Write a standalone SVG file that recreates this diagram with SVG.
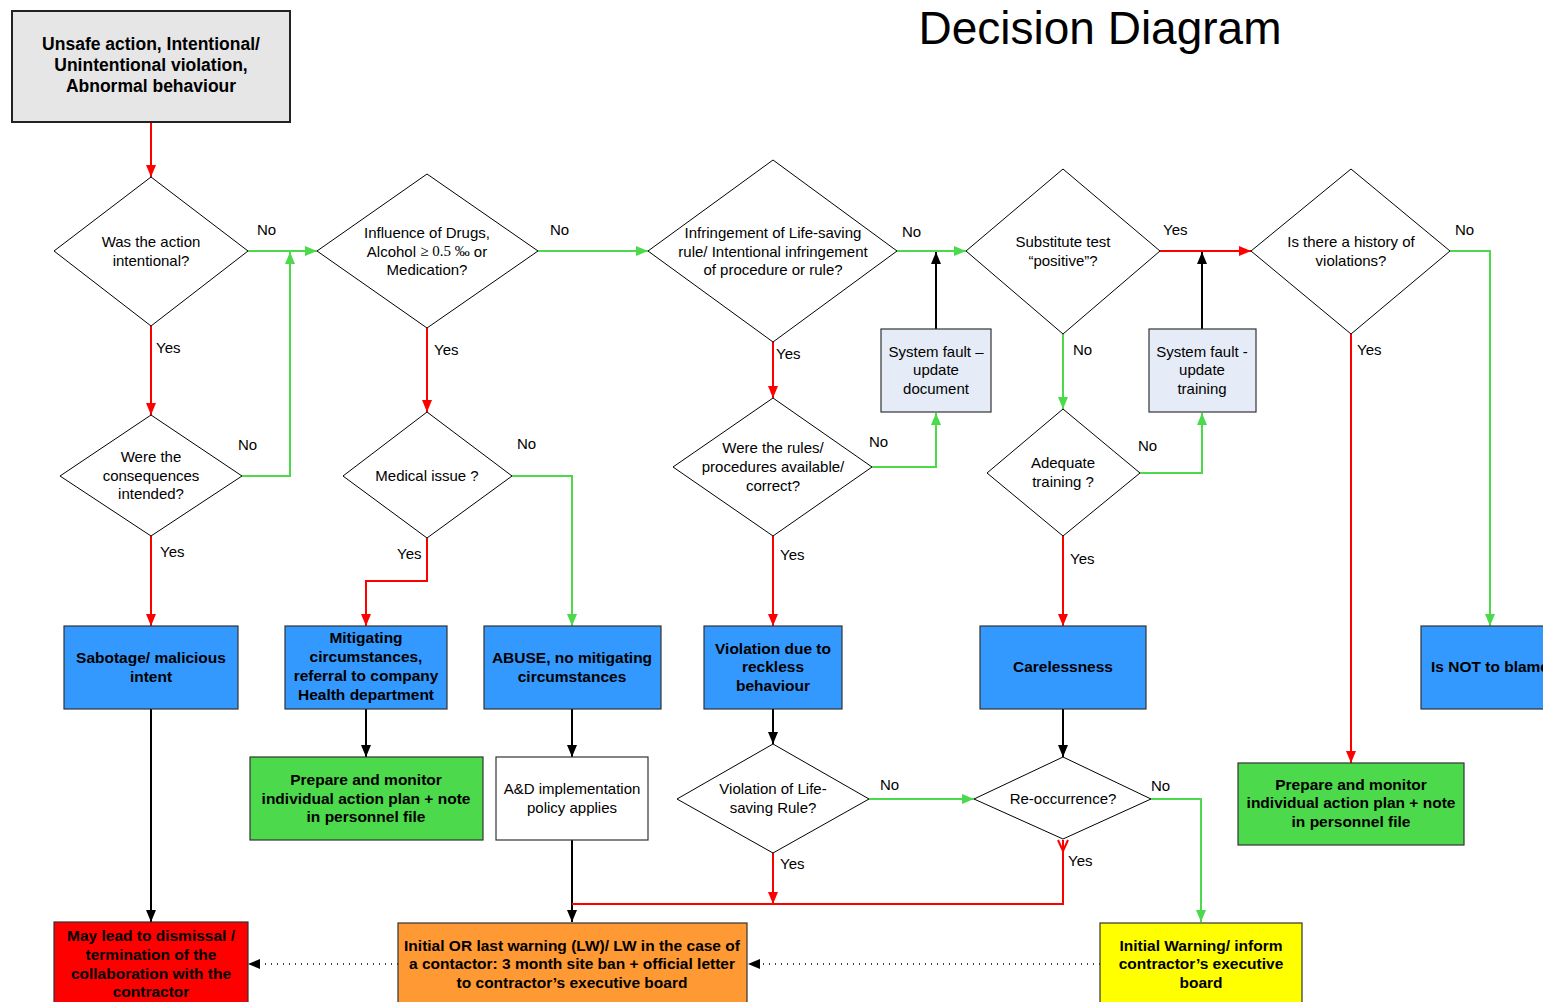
<svg xmlns="http://www.w3.org/2000/svg" width="1543" height="1002" viewBox="0 0 1543 1002">
<style>
text{font-family:"Liberation Sans",Arial,sans-serif;fill:#000;dominant-baseline:central}
.q{font-size:15px;text-anchor:middle}
.b{font-size:15.5px;font-weight:bold;text-anchor:middle}
.lbl{font-size:15px}
.dia{fill:#fff;stroke:#000;stroke-width:1}
.box{stroke:#333;stroke-width:1.2}
.blue{fill:#3399ff}
.grn{fill:#4cd94c}
.sys{fill:#e6ecf7}
.c{fill:none;stroke-width:2}
.r{stroke:#ff0000}
.g{stroke:#4cd94c}
.k{stroke:#000}
.d{fill:none;stroke:#000;stroke-width:1.3;stroke-dasharray:1 5}
</style>
<defs>
<marker id="ar" viewBox="0 0 12 10" refX="12" refY="5" markerWidth="12" markerHeight="10" markerUnits="userSpaceOnUse" orient="auto"><path d="M0,0 L12,5 L0,10 z" fill="#ff0000"/></marker>
<marker id="ag" viewBox="0 0 12 10" refX="12" refY="5" markerWidth="12" markerHeight="10" markerUnits="userSpaceOnUse" orient="auto"><path d="M0,0 L12,5 L0,10 z" fill="#4cd94c"/></marker>
<marker id="ak" viewBox="0 0 12 10" refX="12" refY="5" markerWidth="12" markerHeight="10" markerUnits="userSpaceOnUse" orient="auto"><path d="M0,0 L12,5 L0,10 z" fill="#000"/></marker>
</defs>
<rect width="1543" height="1002" fill="#fff"/>
<text x="1100" y="28" style="font-size:46px;text-anchor:middle">Decision Diagram</text>

<g id="connectors">
<path class="c r" d="M151,122 V177" marker-end="url(#ar)"/>
<path class="c r" d="M151,326 V415" marker-end="url(#ar)"/>
<path class="c g" d="M248,251 H317" marker-end="url(#ag)"/>
<path class="c g" d="M242,476 H290 V252" marker-end="url(#ag)"/>
<path class="c r" d="M151,536 V626" marker-end="url(#ar)"/>
<path class="c k" d="M151,709 V922" marker-end="url(#ak)"/>
<path class="c g" d="M538,251 H648" marker-end="url(#ag)"/>
<path class="c r" d="M427,328 V412" marker-end="url(#ar)"/>
<path class="c g" d="M512,476 H572 V626" marker-end="url(#ag)"/>
<path class="c r" d="M427,538 V581 H366 V626" marker-end="url(#ar)"/>
<path class="c k" d="M366,709 V757" marker-end="url(#ak)"/>
<path class="c k" d="M572,709 V757" marker-end="url(#ak)"/>
<path class="c k" d="M572,840 V922" marker-end="url(#ak)"/>
<path class="c g" d="M897,251 H966" marker-end="url(#ag)"/>
<path class="c k" d="M936,329 V252" marker-end="url(#ak)"/>
<path class="c r" d="M773,342 V398" marker-end="url(#ar)"/>
<path class="c g" d="M872,467 H936 V413" marker-end="url(#ag)"/>
<path class="c r" d="M773,536 V626" marker-end="url(#ar)"/>
<path class="c k" d="M773,709 V744" marker-end="url(#ak)"/>
<path class="c g" d="M869,799 H974" marker-end="url(#ag)"/>
<path class="c r" d="M773,853 V904" marker-end="url(#ar)"/>
<path class="c r" d="M572,904 H1063 V840"/>
<path class="c r" d="M1058,840 L1063,851 L1068,840" stroke-width="1.5"/>
<path class="c k" d="M1063,709 V757" marker-end="url(#ak)"/>
<path class="c g" d="M1151,799 H1201 V922" marker-end="url(#ag)"/>
<path class="c r" d="M1160,251 H1251" marker-end="url(#ar)"/>
<path class="c k" d="M1202,329 V252" marker-end="url(#ak)"/>
<path class="c g" d="M1063,334 V409" marker-end="url(#ag)"/>
<path class="c g" d="M1140,473 H1202 V413" marker-end="url(#ag)"/>
<path class="c r" d="M1063,536 V626" marker-end="url(#ar)"/>
<path class="c g" d="M1450,251 H1490 V626" marker-end="url(#ag)"/>
<path class="c r" d="M1351,334 V763" marker-end="url(#ar)"/>
<path class="d" d="M1100,964 H748" marker-end="url(#ak)"/>
<path class="d" d="M398,964 H248" marker-end="url(#ak)"/>
</g>

<g id="labels">
<text class="lbl" x="257" y="229">No</text>
<text class="lbl" x="156" y="347">Yes</text>
<text class="lbl" x="238" y="444">No</text>
<text class="lbl" x="160" y="551">Yes</text>
<text class="lbl" x="550" y="229">No</text>
<text class="lbl" x="434" y="349">Yes</text>
<text class="lbl" x="517" y="443">No</text>
<text class="lbl" x="397" y="553">Yes</text>
<text class="lbl" x="902" y="231">No</text>
<text class="lbl" x="776" y="353">Yes</text>
<text class="lbl" x="869" y="441">No</text>
<text class="lbl" x="780" y="554">Yes</text>
<text class="lbl" x="880" y="784">No</text>
<text class="lbl" x="780" y="863">Yes</text>
<text class="lbl" x="1151" y="785">No</text>
<text class="lbl" x="1068" y="860">Yes</text>
<text class="lbl" x="1163" y="229">Yes</text>
<text class="lbl" x="1073" y="349">No</text>
<text class="lbl" x="1138" y="445">No</text>
<text class="lbl" x="1070" y="558">Yes</text>
<text class="lbl" x="1455" y="229">No</text>
<text class="lbl" x="1357" y="349">Yes</text>
</g>

<g id="start">
<rect x="12" y="11" width="278" height="111" fill="#e6e6e6" stroke="#222" stroke-width="2"/>
<text class="b" x="151" y="44" style="font-size:17.5px">Unsafe action, Intentional/</text>
<text class="b" x="151" y="65" style="font-size:17.5px">Unintentional violation,</text>
<text class="b" x="151" y="86" style="font-size:17.5px">Abnormal behaviour</text>
</g>

<g id="q-intentional">
<polygon class="dia" points="151,177 248,251 151,326 54,251"/>
<text class="q" x="151" y="241">Was the action</text>
<text class="q" x="151" y="260">intentional?</text>
</g>

<g id="q-consequences">
<polygon class="dia" points="151,415 242,476 151,536 60,476"/>
<text class="q" x="151" y="456">Were the</text>
<text class="q" x="151" y="475">consequences</text>
<text class="q" x="151" y="493">intended?</text>
</g>

<g id="q-drugs">
<polygon class="dia" points="427,174 538,251 427,328 317,251"/>
<text class="q" x="427" y="232">Influence of Drugs,</text>
<text class="q" x="427" y="251">Alcohol <tspan style="font-family:'Liberation Serif',serif">≥ 0.5 ‰</tspan> or</text>
<text class="q" x="427" y="269">Medication?</text>
</g>

<g id="q-medical">
<polygon class="dia" points="427,412 512,476 427,538 343,476"/>
<text class="q" x="427" y="475">Medical issue ?</text>
</g>

<g id="q-lifesaving">
<polygon class="dia" points="773,160 897,251 773,342 648,251"/>
<text class="q" x="773" y="232">Infringement of Life-saving</text>
<text class="q" x="773" y="251">rule/ Intentional infringement</text>
<text class="q" x="773" y="269">of procedure or rule?</text>
</g>

<g id="q-rules">
<polygon class="dia" points="773,398 872,467 773,536 673,467"/>
<text class="q" x="773" y="447">Were the rules/</text>
<text class="q" x="773" y="466">procedures available/</text>
<text class="q" x="773" y="485">correct?</text>
</g>

<g id="sys-document">
<rect class="box sys" x="881" y="329" width="110" height="83"/>
<text class="q" x="936" y="351">System fault –</text>
<text class="q" x="936" y="369">update</text>
<text class="q" x="936" y="388">document</text>
</g>

<g id="q-substitute">
<polygon class="dia" points="1063,169 1160,251 1063,334 966,251"/>
<text class="q" x="1063" y="241">Substitute test</text>
<text class="q" x="1063" y="260">“positive”?</text>
</g>

<g id="q-training">
<polygon class="dia" points="1063,409 1140,473 1063,536 987,473"/>
<text class="q" x="1063" y="462">Adequate</text>
<text class="q" x="1063" y="481">training ?</text>
</g>

<g id="sys-training">
<rect class="box sys" x="1149" y="329" width="107" height="83"/>
<text class="q" x="1202" y="351">System fault -</text>
<text class="q" x="1202" y="369">update</text>
<text class="q" x="1202" y="388">training</text>
</g>

<g id="q-history">
<polygon class="dia" points="1351,169 1450,251 1351,334 1251,251"/>
<text class="q" x="1351" y="241">Is there a history of</text>
<text class="q" x="1351" y="260">violations?</text>
</g>

<g id="sabotage">
<rect class="box blue" x="64" y="626" width="174" height="83"/>
<text class="b" x="151" y="657">Sabotage/ malicious</text>
<text class="b" x="151" y="676">intent</text>
</g>

<g id="mitigating">
<rect class="box blue" x="285" y="626" width="162" height="83"/>
<text class="b" x="366" y="637">Mitigating</text>
<text class="b" x="366" y="656">circumstances,</text>
<text class="b" x="366" y="675">referral to company</text>
<text class="b" x="366" y="694">Health department</text>
</g>

<g id="abuse">
<rect class="box blue" x="484" y="626" width="177" height="83"/>
<text class="b" x="572" y="657">ABUSE, no mitigating</text>
<text class="b" x="572" y="676">circumstances</text>
</g>

<g id="violation">
<rect class="box blue" x="704" y="626" width="138" height="83"/>
<text class="b" x="773" y="648">Violation due to</text>
<text class="b" x="773" y="666">reckless</text>
<text class="b" x="773" y="685">behaviour</text>
</g>

<g id="carelessness">
<rect class="box blue" x="980" y="626" width="166" height="83"/>
<text class="b" x="1063" y="666">Carelessness</text>
</g>

<g id="not-blame">
<rect class="box blue" x="1421" y="626" width="160" height="83"/>
<text class="b" x="1431" y="666" style="text-anchor:start">Is NOT to blame</text>
</g>

<g id="plan-left">
<rect class="box grn" x="250" y="757" width="233" height="83"/>
<text class="b" x="366" y="779">Prepare and monitor</text>
<text class="b" x="366" y="798">individual action plan + note</text>
<text class="b" x="366" y="816">in personnel file</text>
</g>

<g id="ad-policy">
<rect class="box" x="496" y="757" width="152" height="83" fill="#fff"/>
<text class="q" x="572" y="788">A&amp;D implementation</text>
<text class="q" x="572" y="807">policy applies</text>
</g>

<g id="q-violation-ls">
<polygon class="dia" points="773,744 869,799 773,853 677,799"/>
<text class="q" x="773" y="788">Violation of Life-</text>
<text class="q" x="773" y="807">saving Rule?</text>
</g>

<g id="q-reoccurrence">
<polygon class="dia" points="1063,757 1151,799 1063,839 974,799"/>
<text class="q" x="1063" y="798">Re-occurrence?</text>
</g>

<g id="plan-right">
<rect class="box grn" x="1238" y="763" width="226" height="82"/>
<text class="b" x="1351" y="784">Prepare and monitor</text>
<text class="b" x="1351" y="802">individual action plan + note</text>
<text class="b" x="1351" y="821">in personnel file</text>
</g>

<g id="dismissal">
<rect class="box" x="54" y="922" width="194" height="90" fill="#ff0000"/>
<text class="b" x="151" y="935">May lead to dismissal /</text>
<text class="b" x="151" y="954">termination of the</text>
<text class="b" x="151" y="973">collaboration with the</text>
<text class="b" x="151" y="991">contractor</text>
</g>

<g id="warning">
<rect class="box" x="398" y="923" width="349" height="90" fill="#ff9933"/>
<text class="b" x="572" y="945">Initial OR last warning (LW)/ LW in the case of</text>
<text class="b" x="572" y="963">a contactor: 3 month site ban + official letter</text>
<text class="b" x="572" y="982">to contractor’s executive board</text>
</g>

<g id="initial-warning">
<rect class="box" x="1100" y="923" width="202" height="90" fill="#ffff00"/>
<text class="b" x="1201" y="945">Initial Warning/ inform</text>
<text class="b" x="1201" y="963">contractor’s executive</text>
<text class="b" x="1201" y="982">board</text>
</g>
</svg>
